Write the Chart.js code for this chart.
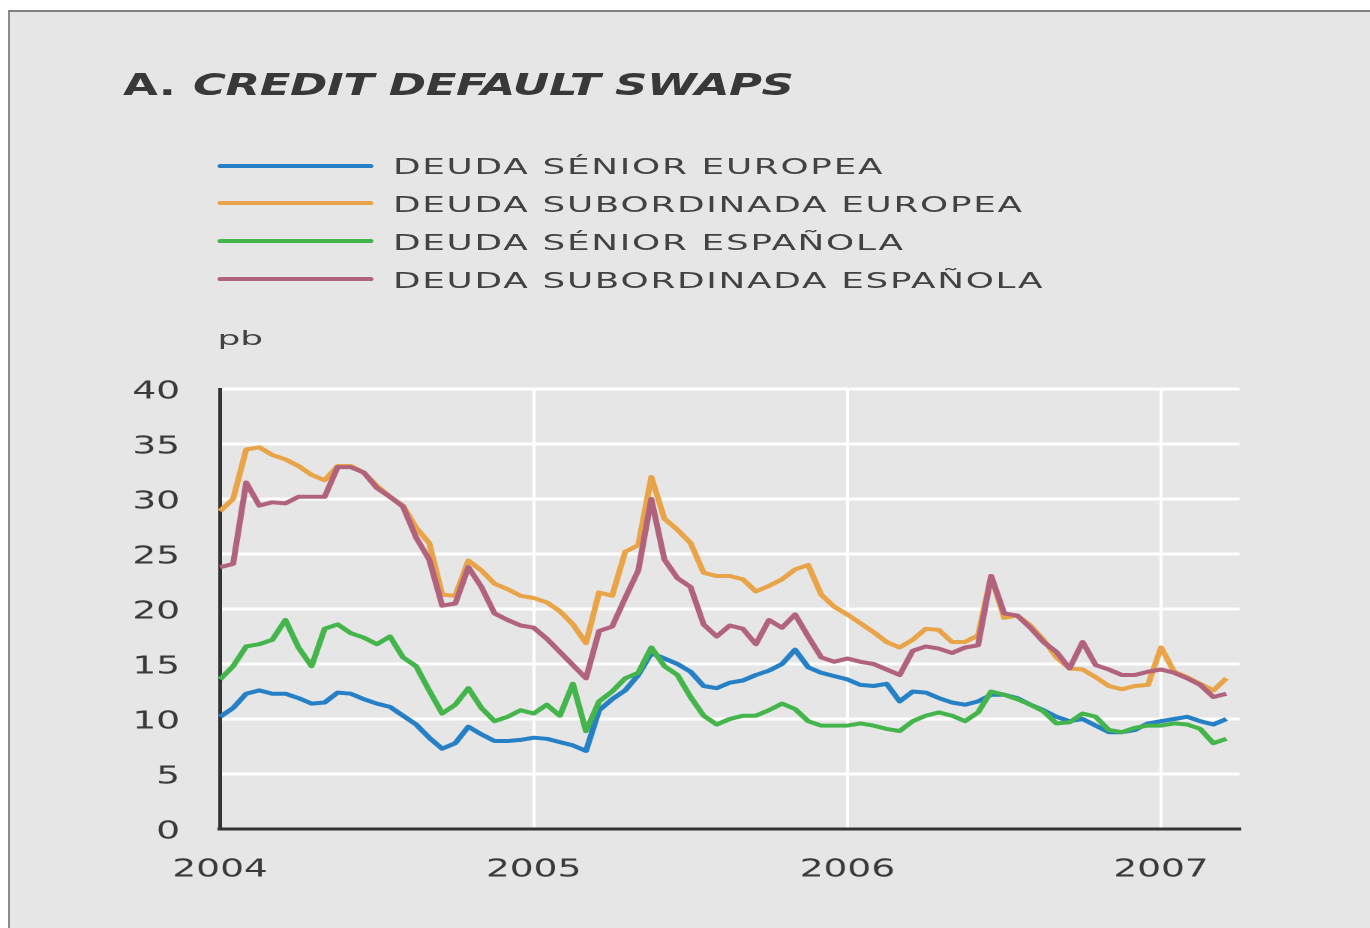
<!DOCTYPE html>
<html><head><meta charset="utf-8">
<script src="https://cdn.jsdelivr.net/npm/chart.js@4.4.1/dist/chart.umd.min.js"></script>
<style>
html,body{margin:0;padding:0;background:#fff;width:1370px;height:928px;overflow:hidden;font-family:"DejaVu Sans",sans-serif;}
#panel{position:absolute;left:8px;top:10px;width:1362px;height:918px;background:#e6e6e6;border-top:2px solid #808080;border-left:2px solid #8c8c8c;box-sizing:border-box;}
#layer{position:absolute;left:0;top:0;width:914px;height:928px;transform:scaleX(1.5);transform-origin:0 0;}
#title{position:absolute;top:69.6px;left:82px;font-weight:bold;font-size:30px;line-height:30px;color:#383838;white-space:nowrap;}
#title .it{position:absolute;left:46.7px;top:0;font-style:italic;letter-spacing:-0.3px;}
.leg{position:absolute;left:144.7px;height:22px;width:700px;}
.leg .ln{position:absolute;left:0;width:104.7px;height:4px;border-radius:2px;}
.leg .tx{position:absolute;left:117.3px;top:0;font-size:21px;line-height:21px;letter-spacing:1px;color:#424242;white-space:nowrap;transform:scaleX(1.137);transform-origin:0 0;}
#pb{position:absolute;left:145.3px;top:328px;font-size:20px;line-height:20px;color:#424242;transform:scaleX(1.2);transform-origin:0 0;}
#chart{position:absolute;left:0;top:0;}
</style>
</head>
<body>
<div id="panel"></div>
<div id="layer">
  <div id="title">A.<span class="it">CREDIT DEFAULT SWAPS</span></div>
  <div id="legend"></div>
  <div id="pb">pb</div>
  <canvas id="chart" width="914" height="928"></canvas>
</div>
<script>
// Semi-monthly observation dates (categories)
const dates = [
 "2004-01-01","2004-01-15","2004-02-01","2004-02-15","2004-03-01","2004-03-15","2004-04-01","2004-04-15",
 "2004-05-01","2004-05-15","2004-06-01","2004-06-15","2004-07-01","2004-07-15","2004-08-01","2004-08-15",
 "2004-09-01","2004-09-15","2004-10-01","2004-10-15","2004-11-01","2004-11-15","2004-12-01","2004-12-15",
 "2005-01-01","2005-01-15","2005-02-01","2005-02-15","2005-03-01","2005-03-15","2005-04-01","2005-04-15",
 "2005-05-01","2005-05-15","2005-06-01","2005-06-15","2005-07-01","2005-07-15","2005-08-01","2005-08-15",
 "2005-09-01","2005-09-15","2005-10-01","2005-10-15","2005-11-01","2005-11-15","2005-12-01","2005-12-15",
 "2006-01-01","2006-01-15","2006-02-01","2006-02-15","2006-03-01","2006-03-15","2006-04-01","2006-04-15",
 "2006-05-01","2006-05-15","2006-06-01","2006-06-15","2006-07-01","2006-07-15","2006-08-01","2006-08-15",
 "2006-09-01","2006-09-15","2006-10-01","2006-10-15","2006-11-01","2006-11-15","2006-12-01","2006-12-15",
 "2007-01-01","2007-01-15","2007-02-01","2007-02-15","2007-03-01","2007-03-15","2007-04-01"
];

const seriesNames = [
 "DEUDA SÉNIOR EUROPEA",
 "DEUDA SUBORDINADA EUROPEA",
 "DEUDA SÉNIOR ESPAÑOLA",
 "DEUDA SUBORDINADA ESPAÑOLA"
];
const seriesColors = ["#2580c6","#e8a447","#44b54b","#b1627d"];

// pb
const seniorEuropea = [
 10.2,11.0,12.3,12.6,12.3,12.3,11.9,11.4,11.5,12.4,12.3,11.8,11.4,11.1,10.3,9.5,
 8.3,7.3,7.8,9.3,8.6,8.0,8.0,8.1,8.3,8.2,7.9,7.6,7.1,10.8,11.8,12.6,
 14.0,16.0,15.5,15.0,14.3,13.0,12.8,13.3,13.5,14.0,14.4,15.0,16.3,14.7,14.2,13.9,
 13.6,13.1,13.0,13.2,11.6,12.5,12.4,11.9,11.5,11.3,11.6,12.2,12.2,11.9,11.3,10.8,
 10.2,9.8,10.0,9.4,8.8,8.8,9.0,9.6,9.8,10.0,10.2,9.8,9.5,10.0
];
const subordinadaEuropea = [
 28.9,30.0,34.5,34.7,34.0,33.6,33.0,32.2,31.7,33.0,33.0,32.4,31.2,30.2,29.4,27.4,
 26.0,21.3,21.2,24.4,23.5,22.3,21.8,21.2,21.0,20.6,19.8,18.6,16.9,21.5,21.2,25.2,
 25.8,32.0,28.2,27.2,26.0,23.3,23.0,23.0,22.7,21.6,22.1,22.7,23.6,24.0,21.3,20.2,
 19.5,18.7,17.9,17.0,16.5,17.2,18.2,18.1,17.0,17.0,17.6,23.0,19.2,19.4,18.5,17.2,
 15.6,14.6,14.5,13.8,13.0,12.7,13.0,13.1,16.5,14.3,13.8,13.2,12.6,13.7
];
const seniorEspanola = [
 13.6,14.8,16.6,16.8,17.2,19.0,16.5,14.8,18.2,18.6,17.8,17.4,16.8,17.5,15.6,14.8,
 12.6,10.5,11.3,12.8,11.0,9.8,10.2,10.8,10.5,11.3,10.3,13.2,8.9,11.6,12.5,13.7,
 14.2,16.5,14.8,14.0,12.0,10.3,9.5,10.0,10.3,10.3,10.8,11.4,10.9,9.8,9.4,9.4,
 9.4,9.6,9.4,9.1,8.9,9.8,10.3,10.6,10.3,9.8,10.6,12.5,12.2,11.8,11.3,10.7,
 9.6,9.7,10.5,10.2,9.0,8.8,9.2,9.4,9.4,9.6,9.5,9.1,7.8,8.2
];
const subordinadaEspanola = [
 23.8,24.1,31.5,29.4,29.7,29.6,30.2,30.2,30.2,32.9,32.9,32.4,31.0,30.2,29.3,26.5,
 24.5,20.3,20.5,23.8,22.0,19.6,19.0,18.5,18.3,17.3,16.1,14.9,13.7,18.0,18.4,21.0,
 23.5,30.0,24.5,22.8,22.0,18.6,17.5,18.5,18.2,16.8,19.0,18.3,19.5,17.5,15.6,15.2,
 15.5,15.2,15.0,14.5,14.0,16.2,16.6,16.4,16.0,16.5,16.7,23.0,19.6,19.4,18.3,17.0,
 16.1,14.6,17.0,14.9,14.5,14.0,14.0,14.3,14.5,14.2,13.7,13.1,12.0,12.3
];
const seriesData = [seniorEuropea, subordinadaEuropea, seniorEspanola, subordinadaEspanola];
const drawOrder = [3,2,1,0];

const yTicks = [0,5,10,15,20,25,30,35,40];

// HTML legend built from series
const legendEl = document.getElementById('legend');
const legendRowY = [165.7, 203.4, 241.1, 278.8];
seriesNames.forEach((name, i) => {
  const row = document.createElement('div');
  row.className = 'leg';
  row.style.top = (legendRowY[i] - 8.3) + 'px';
  const ln = document.createElement('div');
  ln.className = 'ln';
  ln.style.background = seriesColors[i];
  ln.style.top = '6.3px';
  const tx = document.createElement('div');
  tx.className = 'tx';
  tx.textContent = name;
  row.appendChild(ln); row.appendChild(tx);
  legendEl.appendChild(row);
});

const isYearStart = (i) => typeof dates[i] === 'string' && dates[i].endsWith('-01-01');

new Chart(document.getElementById('chart'), {
  type: 'line',
  data: {
    labels: dates,
    datasets: seriesNames.map((n, i) => ({
      label: n,
      data: seriesData[i],
      borderColor: seriesColors[i],
      backgroundColor: seriesColors[i],
      borderWidth: 4,
      pointRadius: 0,
      tension: 0,
      fill: false,
      order: drawOrder[i],
      borderJoinStyle: 'round'
    }))
  },
  options: {
    responsive: false,
    animation: false,
    devicePixelRatio: 2,
    layout: { padding: { top: 389, left: 0, right: 87.7, bottom: 0 } },
    plugins: { legend: { display: false }, tooltip: { enabled: false }, title: { display: false } },
    scales: {
      x: {
        type: 'category',
        grid: {
          color: (c) => (c.index > 0 && isYearStart(c.index)) ? '#ffffff' : 'rgba(0,0,0,0)',
          lineWidth: 2,
          drawTicks: false
        },
        border: { display: true, color: '#333333', width: 3 },
        ticks: {
          autoSkip: false, maxRotation: 0, minRotation: 0, padding: 26,
          color: '#3a3a3a',
          font: { family: 'DejaVu Sans', size: 25 },
          callback: function (v, i) {
            const l = this.getLabelForValue(v);
            return isYearStart(i) ? l.slice(0, 4) : '';
          }
        },
        afterFit: (s) => { s.height = 99; }
      },
      y: {
        min: 0, max: 40,
        afterBuildTicks: (s) => { s.ticks = yTicks.map(v => ({ value: v })); },
        grid: { color: '#ffffff', lineWidth: 3, drawTicks: false },
        border: { display: true, color: '#333333', width: 2.5 },
        ticks: {
          padding: 26.7,
          labelOffset: 3,
          color: '#3a3a3a',
          font: { family: 'DejaVu Sans', size: 25 }
        },
        afterFit: (s) => { s.width = 146.7; }
      }
    }
  }
});
</script>
</body></html>
